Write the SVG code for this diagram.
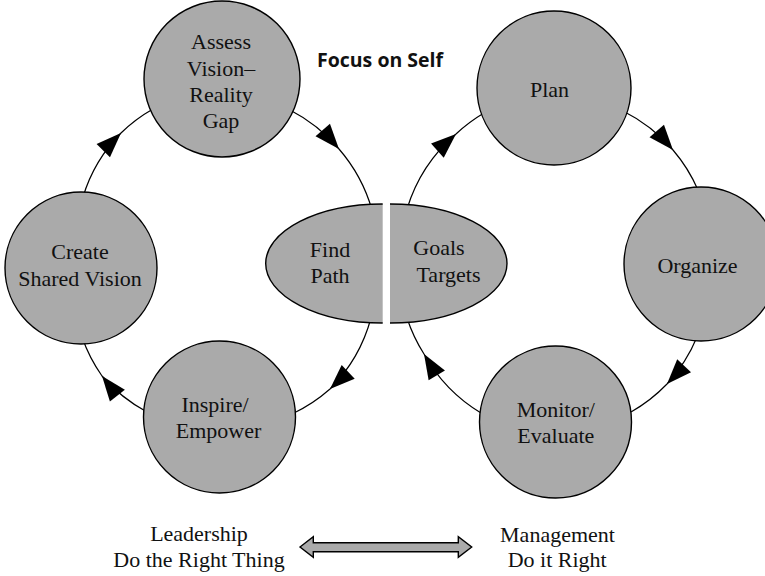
<svg xmlns="http://www.w3.org/2000/svg" width="765" height="576" viewBox="0 0 765 576">
  <style>
    .node { fill: #aaaaaa; stroke: #000; stroke-width: 1.4; }
    .fillonly { fill: #aaaaaa; stroke: none; }
    .edge { fill: #aaaaaa; stroke: #000; stroke-width: 1.4; }
    .outline { fill: none; stroke: #000; stroke-width: 1.4; }
    .conn { fill: none; stroke: #000; stroke-width: 1.2; marker-mid: url(#ah); }
    .lbl { font-family: "Liberation Serif", "Times New Roman", serif; font-size: 22px; fill: #111; text-anchor: middle; }
    .title { font-family: "Open Sans", "Noto Sans", sans-serif; font-size: 19.5px; font-weight: bold; fill: #111; }
  </style>
  <defs>
    <marker id="ah" viewBox="-27 -12 28 24" refX="0" refY="0" markerWidth="28" markerHeight="24" markerUnits="userSpaceOnUse" orient="auto">
      <path d="M0,0 L-25,-9.5 L-25,9.5 Z" fill="#000"/>
    </marker>
  </defs>

  <rect width="765" height="576" fill="#fff"/>

  <!-- cycle connectors -->
  <g id="connectors">
    <path class="conn" d="M83,197 A155,155 0 0 1 121,133 A155,155 0 0 1 153,109"/>
    <path class="conn" d="M290,110 A160,160 0 0 1 339,149 A160,160 0 0 1 372,210"/>
    <path class="conn" d="M371,318 A160,160 0 0 1 330,389 A160,160 0 0 1 292,414"/>
    <path class="conn" d="M147,412 A160,160 0 0 1 102,376 A160,160 0 0 1 82,337"/>
    <path class="conn" d="M407,209 A160,160 0 0 1 456,134 A160,160 0 0 1 484,113"/>
    <path class="conn" d="M623,111 A160,160 0 0 1 673,150 A160,160 0 0 1 698,190"/>
    <path class="conn" d="M697,337 A160,160 0 0 1 667,384 A160,160 0 0 1 631,412"/>
    <path class="conn" d="M481,413 A160,160 0 0 1 424,354 A160,160 0 0 1 407,318"/>
  </g>

  <!-- leadership cycle -->
  <g id="assess">
    <circle class="node" cx="222" cy="79" r="78"/>
    <text class="lbl" x="221" y="49.3">Assess</text>
    <text class="lbl" x="221" y="75.6">Vision–</text>
    <text class="lbl" x="221" y="101.9">Reality</text>
    <text class="lbl" x="221" y="128.2">Gap</text>
  </g>
  <g id="create">
    <circle class="node" cx="81" cy="268" r="76"/>
    <text class="lbl" x="80" y="259">Create</text>
    <text class="lbl" x="80" y="286">Shared Vision</text>
  </g>
  <g id="inspire">
    <circle class="node" cx="219.5" cy="417" r="76"/>
    <text class="lbl" x="215" y="411.7">Inspire/</text>
    <text class="lbl" x="218.5" y="438.3">Empower</text>
  </g>
  <g id="find-path">
    <path class="fillonly" d="M382.7,204 A117,59.5 0 0 0 382.7,323 Z"/>
    <path class="outline" d="M382.7,204 A117,59.5 0 0 0 382.7,323"/>
    <text class="lbl" x="330" y="256.7">Find</text>
    <text class="lbl" x="330" y="283.3">Path</text>
  </g>

  <!-- management cycle -->
  <g id="goals-targets">
    <path class="fillonly" d="M390,204 A117,59.5 0 0 1 390,323 Z"/>
    <path class="outline" d="M390,204 A117,59.5 0 0 1 390,323"/>
    <text class="lbl" x="439" y="255">Goals</text>
    <text class="lbl" x="448.5" y="282.3">Targets</text>
  </g>
  <g id="plan">
    <circle class="node" cx="554" cy="88" r="77"/>
    <text class="lbl" x="549.5" y="96.7">Plan</text>
  </g>
  <g id="organize">
    <circle class="node" cx="701" cy="264" r="77"/>
    <text class="lbl" x="697.5" y="273.3">Organize</text>
  </g>
  <g id="monitor">
    <circle class="node" cx="555.5" cy="422" r="76"/>
    <text class="lbl" x="555.8" y="416.7">Monitor/</text>
    <text class="lbl" x="555.8" y="443.3">Evaluate</text>
  </g>

  <text class="title" x="317" y="67">Focus on Self</text>

  <!-- leadership / management scale -->
  <g id="leadership">
    <text class="lbl" x="199" y="541">Leadership</text>
    <text class="lbl" x="199" y="566.7">Do the Right Thing</text>
  </g>
  <g id="scale-arrow">
    <path class="edge" d="M300,547 L313.3,536.7 L313.3,542.7 L458.3,542.7 L458.3,536.7 L471.7,547 L458.3,557.3 L458.3,551.7 L313.3,551.7 L313.3,557.3 Z"/>
  </g>
  <g id="management">
    <text class="lbl" x="557.5" y="541.7">Management</text>
    <text class="lbl" x="557.2" y="567.3">Do it Right</text>
  </g>
</svg>
